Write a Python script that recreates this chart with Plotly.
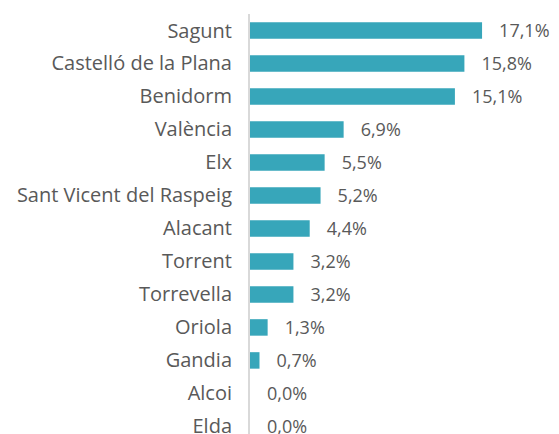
import plotly.graph_objects as go

categories = ["Sagunt", "Castelló de la Plana", "Benidorm", "València", "Elx",
              "Sant Vicent del Raspeig", "Alacant", "Torrent", "Torrevella",
              "Oriola", "Gandia", "Alcoi", "Elda"]
values = [17.1, 15.8, 15.1, 6.9, 5.5, 5.2, 4.4, 3.2, 3.2, 1.3, 0.7, 0.0, 0.0]
labels = ["   " + f"{v:.1f}%".replace(".", ",") for v in values]

fig = go.Figure(go.Bar(
    y=categories, x=values, orientation="h",
    marker=dict(color="#37A6BA", line=dict(width=0)),
    text=labels, textposition="outside", cliponaxis=False, constraintext="none",
    textfont=dict(size=18, color="#595959", family="Open Sans"),
    width=0.5,
))

fig.update_layout(
    width=559, height=434,
    margin=dict(l=250, r=0, t=14, b=0, autoexpand=False),
    paper_bgcolor="white", plot_bgcolor="white",
    font=dict(family="Open Sans", size=20, color="#595959"),
    showlegend=False,
)
fig.update_xaxes(range=[0, 22.77], visible=False, showgrid=False, zeroline=False,
                 automargin=False)
fig.update_yaxes(range=[12.23, -0.5], showline=True, linecolor="#D9D9D9", linewidth=2,
                 ticks="", ticklabelstandoff=12, showgrid=False, zeroline=False,
                 automargin=False)

fig.write_html(
    "out.html",
    config={"displayModeBar": False},
    post_script="document.body.style.margin='0';document.body.style.overflow='hidden';",
)
